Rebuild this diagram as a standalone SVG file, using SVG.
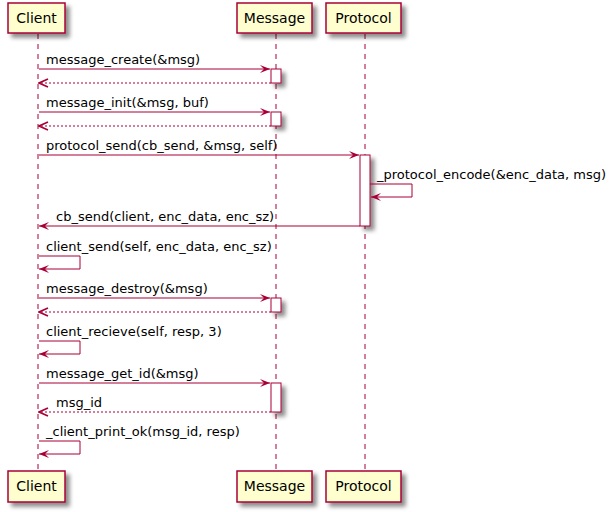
<svg xmlns="http://www.w3.org/2000/svg" width="616" height="512" viewBox="0 0 616 512">
<defs>
<filter id="sh" x="-1" y="-1" width="300%" height="300%">
<feGaussianBlur in="SourceAlpha" stdDeviation="2" result="b"/>
<feColorMatrix in="b" type="matrix" values="0 0 0 0 0  0 0 0 0 0  0 0 0 0 0  0 0 0 0.45 0" result="c"/>
<feOffset in="c" dx="4" dy="4" result="o"/>
<feBlend in="SourceGraphic" in2="o" mode="normal"/>
</filter>
<marker id="ah" viewBox="0 0 10 8" refX="10" refY="4" markerWidth="10" markerHeight="8" markerUnits="userSpaceOnUse" orient="auto">
<polygon points="0,0 10,4 0,8 4,4" fill="#A80036"/>
</marker>
<marker id="oh" viewBox="0 0 12 10" refX="11" refY="5" markerWidth="12" markerHeight="10" markerUnits="userSpaceOnUse" orient="auto">
<polyline points="2,1 11,5 2,9" fill="none" stroke="#A80036" stroke-width="1.6"/>
</marker>
</defs>
<style>
.box{fill:#FEFECE;stroke:#A80036;stroke-width:1.5;}
.act{fill:#FFFFFF;stroke:#A80036;stroke-width:1;}
.life{stroke:#A80036;stroke-width:1;stroke-dasharray:5,5;fill:none;}
.pn{font-family:"DejaVu Sans",sans-serif;font-size:14px;fill:#000000;}
.msg{font-family:"DejaVu Sans",sans-serif;font-size:13px;fill:#000000;}
.call{stroke:#A80036;stroke-width:1;fill:none;marker-end:url(#ah);}
.ret{stroke:#A80036;stroke-width:1;fill:none;stroke-dasharray:2,2;marker-end:url(#oh);}
</style>
<rect width="616" height="512" fill="#FFFFFF"/>
<g id="lifelines">
<line class="life" x1="38" y1="34" x2="38" y2="471"/>
<line class="life" x1="276" y1="34" x2="276" y2="471"/>
<line class="life" x1="365" y1="34" x2="365" y2="471"/>
</g>
<g id="activations">
<rect class="act" x="271" y="69" width="10" height="14" filter="url(#sh)"/>
<rect class="act" x="271" y="112" width="10" height="14" filter="url(#sh)"/>
<rect class="act" x="360" y="155" width="10" height="71" filter="url(#sh)"/>
<rect class="act" x="271" y="298" width="10" height="14" filter="url(#sh)"/>
<rect class="act" x="271" y="383" width="10" height="29" filter="url(#sh)"/>
</g>
<g id="client-top"><rect class="box" x="8" y="3" width="57" height="30" filter="url(#sh)"/><text class="pn" x="36.5" y="23" text-anchor="middle">Client</text></g>
<g id="message-top"><rect class="box" x="237" y="3" width="75" height="30" filter="url(#sh)"/><text class="pn" x="274.5" y="23" text-anchor="middle">Message</text></g>
<g id="protocol-top"><rect class="box" x="326" y="3" width="75" height="30" filter="url(#sh)"/><text class="pn" x="363.5" y="23" text-anchor="middle">Protocol</text></g>
<g id="client-bottom"><rect class="box" x="8" y="471" width="57" height="31" filter="url(#sh)"/><text class="pn" x="36.5" y="491" text-anchor="middle">Client</text></g>
<g id="message-bottom"><rect class="box" x="237" y="471" width="75" height="31" filter="url(#sh)"/><text class="pn" x="274.5" y="491" text-anchor="middle">Message</text></g>
<g id="protocol-bottom"><rect class="box" x="326" y="471" width="75" height="31" filter="url(#sh)"/><text class="pn" x="363.5" y="491" text-anchor="middle">Protocol</text></g>
<g id="connectors">
<line class="call" x1="39" y1="69" x2="270" y2="69"/>
<text class="msg" x="46" y="64">message_create(&amp;msg)</text>
<line class="ret" x1="271" y1="83" x2="39" y2="83"/>
<line class="call" x1="39" y1="112" x2="270" y2="112"/>
<text class="msg" x="46" y="107">message_init(&amp;msg, buf)</text>
<line class="ret" x1="271" y1="126" x2="39" y2="126"/>
<line class="call" x1="39" y1="155" x2="359" y2="155"/>
<text class="msg" x="46" y="150">protocol_send(cb_send, &amp;msg, self)</text>
<polyline class="call" points="370,184 412,184 412,197 371,197"/>
<text class="msg" x="377" y="179">_protocol_encode(&amp;enc_data, msg)</text>
<line class="call" x1="360" y1="226" x2="39" y2="226"/>
<text class="msg" x="56" y="221">cb_send(client, enc_data, enc_sz)</text>
<polyline class="call" points="39,256 80,256 80,269 39,269"/>
<text class="msg" x="46" y="251">client_send(self, enc_data, enc_sz)</text>
<line class="call" x1="39" y1="298" x2="270" y2="298"/>
<text class="msg" x="46" y="293">message_destroy(&amp;msg)</text>
<line class="ret" x1="271" y1="312" x2="39" y2="312"/>
<polyline class="call" points="39,341 80,341 80,354 39,354"/>
<text class="msg" x="46" y="336">client_recieve(self, resp, 3)</text>
<line class="call" x1="39" y1="383" x2="270" y2="383"/>
<text class="msg" x="46" y="378">message_get_id(&amp;msg)</text>
<line class="ret" x1="271" y1="412" x2="39" y2="412"/>
<text class="msg" x="56" y="407">msg_id</text>
<polyline class="call" points="39,441 80,441 80,454 39,454"/>
<text class="msg" x="46" y="436">_client_print_ok(msg_id, resp)</text>
</g>
</svg>
